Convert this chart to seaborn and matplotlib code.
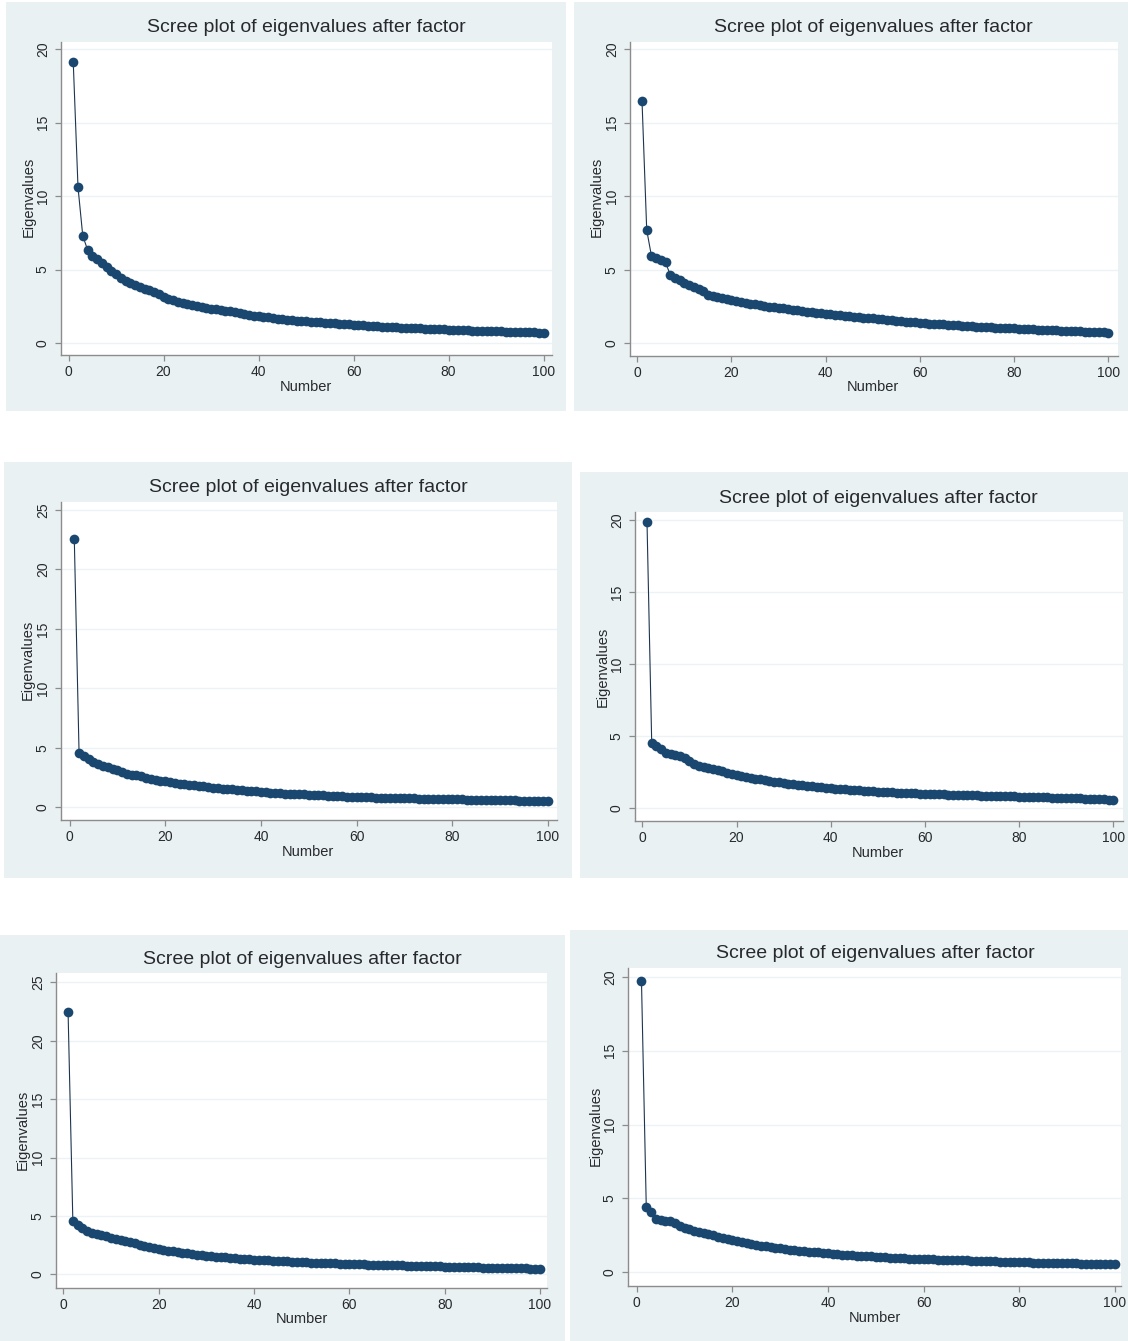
"""
Six Stata-style scree plots of eigenvalues after factor, laid out as a collage.
"""

import numpy as np
import matplotlib
matplotlib.use("Agg")
import matplotlib.pyplot as plt
from matplotlib.patches import Rectangle
import seaborn as sns

sns.set_theme(context="paper", style="white")
plt.rcParams["font.family"] = ["Liberation Sans", "DejaVu Sans"]

W, H = 1128, 1341

NAVY = "#1a476f"
PANEL_BG = "#eaf1f3"
GRID = "#edf3f5"
AXIS = "#8c8c8c"
TEXT = "#262a2e"

title = "Scree plot of eigenvalues after factor"
xlabel = "Number"
ylabel = "Eigenvalues"
xticks = [0, 20, 40, 60, 80, 100]
yticks_20 = [0, 5, 10, 15, 20]
yticks_25 = [0, 5, 10, 15, 20, 25]

number = np.arange(1, 101)

eig_1 = [
    19.1, 10.6, 7.3, 6.35, 5.9, 5.7, 5.45, 5.15, 4.9, 4.7,
    4.45, 4.25, 4.1, 3.95, 3.8, 3.7, 3.6, 3.45, 3.3, 3.1,
    3.0, 2.9, 2.8, 2.72, 2.64, 2.56, 2.5, 2.44, 2.38, 2.33,
    2.28, 2.24, 2.2, 2.16, 2.12, 2.05, 1.98, 1.92, 1.87, 1.83,
    1.78, 1.74, 1.7, 1.66, 1.62, 1.59, 1.56, 1.53, 1.5, 1.47,
    1.45, 1.42, 1.4, 1.38, 1.35, 1.33, 1.31, 1.28, 1.26, 1.24,
    1.22, 1.2, 1.18, 1.16, 1.14, 1.12, 1.1, 1.09, 1.07, 1.05,
    1.04, 1.02, 1.01, 0.99, 0.98, 0.96, 0.95, 0.94, 0.93, 0.91,
    0.9, 0.89, 0.87, 0.86, 0.85, 0.84, 0.83, 0.82, 0.81, 0.8,
    0.79, 0.78, 0.77, 0.76, 0.75, 0.74, 0.73, 0.72, 0.71, 0.7,
]

eig_2 = [
    16.5, 7.7, 5.95, 5.8, 5.65, 5.5, 4.65, 4.45, 4.3, 4.1,
    3.95, 3.85, 3.7, 3.55, 3.3, 3.22, 3.15, 3.07, 3.0, 2.93,
    2.87, 2.81, 2.75, 2.69, 2.64, 2.59, 2.55, 2.5, 2.46, 2.42,
    2.37, 2.33, 2.28, 2.24, 2.2, 2.15, 2.11, 2.07, 2.03, 2.0,
    1.96, 1.93, 1.9, 1.87, 1.84, 1.81, 1.78, 1.75, 1.72, 1.69,
    1.66, 1.63, 1.6, 1.57, 1.54, 1.51, 1.48, 1.45, 1.42, 1.39,
    1.36, 1.34, 1.32, 1.3, 1.28, 1.26, 1.24, 1.22, 1.2, 1.18,
    1.16, 1.14, 1.12, 1.11, 1.09, 1.07, 1.06, 1.04, 1.02, 1.01,
    0.99, 0.98, 0.96, 0.95, 0.93, 0.92, 0.9, 0.89, 0.88, 0.86,
    0.85, 0.83, 0.82, 0.81, 0.79, 0.78, 0.77, 0.75, 0.74, 0.72,
]

eig_3 = [
    22.6, 4.55, 4.3, 4.05, 3.8, 3.6, 3.48, 3.36, 3.24, 3.1,
    2.95, 2.82, 2.75, 2.68, 2.6, 2.5, 2.38, 2.3, 2.24, 2.18,
    2.12, 2.06, 2.0, 1.95, 1.9, 1.85, 1.8, 1.75, 1.7, 1.66,
    1.62, 1.58, 1.54, 1.5, 1.46, 1.43, 1.4, 1.36, 1.33, 1.3,
    1.27, 1.24, 1.21, 1.19, 1.16, 1.14, 1.12, 1.1, 1.08, 1.06,
    1.04, 1.02, 1.0, 0.98, 0.96, 0.94, 0.92, 0.9, 0.88, 0.86,
    0.85, 0.84, 0.83, 0.82, 0.81, 0.8, 0.79, 0.78, 0.77, 0.76,
    0.75, 0.74, 0.73, 0.72, 0.71, 0.7, 0.69, 0.69, 0.68, 0.67,
    0.66, 0.66, 0.65, 0.64, 0.63, 0.63, 0.62, 0.61, 0.6, 0.6,
    0.59, 0.58, 0.58, 0.57, 0.56, 0.56, 0.55, 0.54, 0.54, 0.53,
]

eig_4 = [
    19.85, 4.5, 4.35, 4.1, 3.85, 3.75, 3.7, 3.62, 3.5, 3.3,
    3.05, 2.95, 2.88, 2.8, 2.72, 2.65, 2.57, 2.48, 2.4, 2.32,
    2.25, 2.18, 2.12, 2.06, 2.0, 1.95, 1.9, 1.85, 1.8, 1.75,
    1.71, 1.67, 1.63, 1.59, 1.55, 1.52, 1.49, 1.46, 1.43, 1.4,
    1.37, 1.34, 1.31, 1.28, 1.26, 1.24, 1.22, 1.2, 1.18, 1.16,
    1.14, 1.12, 1.1, 1.09, 1.07, 1.06, 1.04, 1.03, 1.01, 1.0,
    0.99, 0.98, 0.97, 0.96, 0.95, 0.94, 0.93, 0.92, 0.91, 0.9,
    0.89, 0.88, 0.87, 0.86, 0.85, 0.84, 0.83, 0.83, 0.82, 0.81,
    0.8, 0.79, 0.78, 0.77, 0.76, 0.75, 0.74, 0.73, 0.72, 0.71,
    0.7, 0.69, 0.68, 0.67, 0.66, 0.65, 0.63, 0.62, 0.6, 0.58,
]

eig_5 = [
    22.5, 4.6, 4.2, 3.95, 3.7, 3.55, 3.48, 3.38, 3.28, 3.15,
    3.05, 2.95, 2.85, 2.75, 2.65, 2.55, 2.45, 2.35, 2.25, 2.15,
    2.08, 2.02, 1.96, 1.9, 1.84, 1.79, 1.74, 1.69, 1.64, 1.6,
    1.56, 1.52, 1.48, 1.44, 1.4, 1.37, 1.34, 1.31, 1.28, 1.25,
    1.23, 1.21, 1.19, 1.17, 1.15, 1.13, 1.11, 1.09, 1.07, 1.05,
    1.03, 1.01, 0.99, 0.97, 0.96, 0.94, 0.93, 0.91, 0.9, 0.88,
    0.87, 0.86, 0.85, 0.83, 0.82, 0.81, 0.8, 0.79, 0.78, 0.77,
    0.76, 0.75, 0.73, 0.72, 0.71, 0.7, 0.69, 0.68, 0.67, 0.66,
    0.65, 0.64, 0.63, 0.62, 0.61, 0.6, 0.59, 0.58, 0.57, 0.56,
    0.55, 0.54, 0.53, 0.52, 0.52, 0.51, 0.5, 0.49, 0.49, 0.48,
]

eig_6 = [
    19.7, 4.45, 4.1, 3.6, 3.55, 3.5, 3.45, 3.32, 3.15, 3.0,
    2.9, 2.82, 2.74, 2.66, 2.58, 2.5, 2.42, 2.34, 2.26, 2.18,
    2.12, 2.05, 1.98, 1.92, 1.86, 1.81, 1.76, 1.71, 1.66, 1.62,
    1.58, 1.54, 1.5, 1.46, 1.43, 1.4, 1.37, 1.34, 1.31, 1.28,
    1.25, 1.23, 1.2, 1.18, 1.15, 1.13, 1.11, 1.09, 1.07, 1.05,
    1.03, 1.01, 1.0, 0.98, 0.96, 0.95, 0.93, 0.92, 0.9, 0.89,
    0.88, 0.87, 0.86, 0.85, 0.84, 0.83, 0.82, 0.81, 0.8, 0.79,
    0.78, 0.77, 0.76, 0.75, 0.74, 0.73, 0.72, 0.71, 0.7, 0.69,
    0.68, 0.67, 0.66, 0.65, 0.64, 0.64, 0.63, 0.62, 0.61, 0.61,
    0.6, 0.6, 0.59, 0.58, 0.58, 0.57, 0.57, 0.56, 0.56, 0.55,
]

# pixel layout of each panel (top-left origin):
# bg = panel rectangle, box = plot region (l, t, r, b),
# xpx = pixel of x=0 and x=100, ypx = pixel of y=0 and y=ytop
panels = [
    dict(data=eig_1, yticks=yticks_20, bg=(6, 2, 566, 411),
         box=(61, 42, 552, 355), xpx=(68.5, 543.5), ypx=(343, 49),
         title=(306, 27), xlab=(306, 387), ylab=(29, 197)),
    dict(data=eig_2, yticks=yticks_20, bg=(574, 2, 1128, 411),
         box=(630, 42, 1118, 356), xpx=(637.3, 1108.3), ypx=(343.3, 49.3),
         title=(873, 27), xlab=(873, 387), ylab=(597, 197)),
    dict(data=eig_3, yticks=yticks_25, bg=(4, 462, 572, 878),
         box=(61, 502, 557, 820), xpx=(69.5, 548), ypx=(807.3, 510),
         title=(308, 488), xlab=(308, 852), ylab=(28, 660)),
    dict(data=eig_4, yticks=yticks_20, bg=(580, 472, 1128, 878),
         box=(635, 512, 1123, 821), xpx=(642.3, 1113.3), ypx=(808.3, 520),
         title=(878, 499), xlab=(878, 853), ylab=(603, 667)),
    dict(data=eig_5, yticks=yticks_25, bg=(0, 935, 565, 1341),
         box=(56, 973, 547, 1288), xpx=(63.3, 540), ypx=(1274.3, 982.3),
         title=(302, 960), xlab=(302, 1319), ylab=(23, 1130)),
    dict(data=eig_6, yticks=yticks_20, bg=(570, 930, 1128, 1341),
         box=(628, 968, 1121, 1286), xpx=(636.7, 1114.7), ypx=(1272.3, 976.7),
         title=(875, 954), xlab=(875, 1318), ylab=(596, 1126)),
]

fig = plt.figure(figsize=(W / 100, H / 100), dpi=100)
fig.patch.set_facecolor("white")


def fx(px):
  return px / W


def fy(py):
  return 1 - py / H


for p in panels:
  l, t, r, b = p["bg"]
  fig.patches.append(Rectangle(
      (fx(l), fy(b)), fx(r - l), (b - t) / H,
      transform=fig.transFigure, facecolor=PANEL_BG, edgecolor="none",
      zorder=-10
  ))

  l, t, r, b = p["box"]
  ax = fig.add_axes([fx(l), fy(b), fx(r - l), (b - t) / H], zorder=1)
  ax.set_facecolor("white")

  x0, x100 = p["xpx"]
  sx = (x100 - x0) / 100
  y0, ytop = p["ypx"]
  sy = (y0 - ytop) / max(p["yticks"])
  ax.set_xlim((l - x0) / sx, (r - x0) / sx)
  ax.set_ylim((y0 - b) / sy, (y0 - t) / sy)

  sns.lineplot(
      x=number, y=p["data"], ax=ax, color="#1d3550", linewidth=0.8,
      marker="o", markersize=7, markeredgewidth=0, markerfacecolor=NAVY,
      zorder=3
  )

  ax.set_xticks(xticks)
  ax.set_yticks(p["yticks"])
  ax.yaxis.grid(True, color=GRID, linewidth=1.0, zorder=0)
  ax.xaxis.grid(False)
  ax.set_axisbelow(True)
  for side in ["top", "right"]:
    ax.spines[side].set_visible(False)
  for side in ["left", "bottom"]:
    ax.spines[side].set_color(AXIS)
    ax.spines[side].set_linewidth(1.0)
  ax.tick_params(axis="both", direction="out", length=4, width=0.9,
                 color=AXIS, labelsize=10, labelcolor=TEXT,
                 bottom=True, left=True)
  ax.tick_params(axis="x", pad=3)
  ax.tick_params(axis="y", pad=4)
  for lab in ax.get_yticklabels():
    lab.set_rotation(90)
    lab.set_va("center")
  ax.set_xlabel("")
  ax.set_ylabel("")

  fig.text(fx(p["title"][0]), fy(p["title"][1]), title, ha="center",
           va="center", fontsize=14, color=TEXT)
  fig.text(fx(p["xlab"][0]), fy(p["xlab"][1]), xlabel, ha="center",
           va="center", fontsize=10.5, color=TEXT)
  fig.text(fx(p["ylab"][0]), fy(p["ylab"][1]), ylabel, ha="center",
           va="center", fontsize=10.5, color=TEXT, rotation=90)

fig.savefig("out.png", dpi=100)
